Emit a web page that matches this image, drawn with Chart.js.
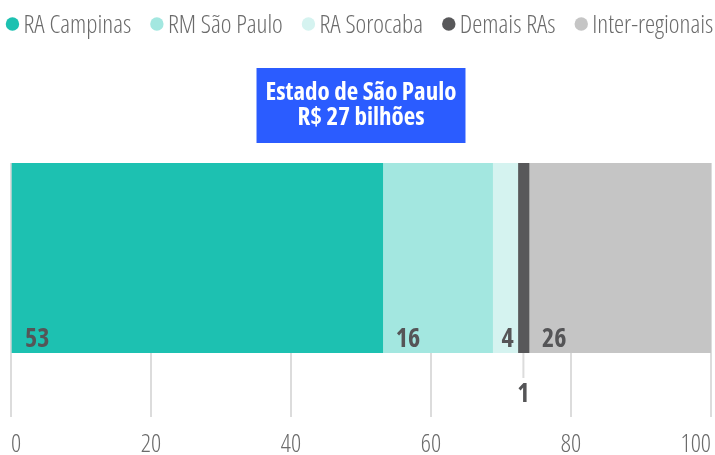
<!DOCTYPE html>
<html>
<head>
<meta charset="utf-8">
<script src="https://cdn.jsdelivr.net/npm/chart.js@4.4.1/dist/chart.umd.min.js"></script>
<style>
html,body{margin:0;padding:0;background:#fff;}
#wrap{width:715px;height:455px;position:relative;}
</style>
</head>
<body>
<div id="wrap"><canvas id="c" width="715" height="455"></canvas></div>
<script>
// ---- data ----
const categories = ['Estado de São Paulo'];
const seriesNames = ['RA Campinas', 'RM São Paulo', 'RA Sorocaba', 'Demais RAs', 'Inter-regionais'];
const seriesValues = [53.1, 15.7, 3.6, 1.6, 26.0];
const valueLabels = ['53', '16', '4', '1', '26'];
const seriesColors = ['#1DC1B1', '#A3E7E0', '#D5F3F0', '#58585A', '#C5C5C5'];
const xTickValues = [0, 20, 40, 60, 80, 100];
const titleLines = ['Estado de São Paulo', 'R$ 27 bilhões'];

const FAMILY = "'Open Sans', sans-serif";
const TEXT_GREY = '#6b6b6b';
const LABEL_GREY = '#555557';
const GRID = '#dcdcdc';
const TITLE_BG = '#2B5CFF';

// blue box behind the chart title
const titleBg = {
  id: 'titleBg',
  beforeDraw(chart) {
    const tb = chart.titleBlock;
    if (!tb) return;
    const o = tb.options;
    const ctx = chart.ctx;
    const fs = o.font.size, lh = fs * o.font.lineHeight;
    ctx.save();
    ctx.font = `condensed 700 ${fs}px ${FAMILY}`;
    let w = 0;
    titleLines.forEach(t => { w = Math.max(w, ctx.measureText(t).width); });
    const cx = (tb.left + tb.right) / 2;
    const textTop = tb.top + o.padding.top;
    const textBottom = textTop + lh * titleLines.length;
    ctx.fillStyle = TITLE_BG;
    ctx.fillRect(cx - w / 2 - 9, textTop - 12, w + 18, textBottom - textTop + 25);
    ctx.restore();
  }
};

// single-row legend with circle markers, drawn from the datasets
const topLegend = {
  id: 'topLegend',
  afterDraw(chart) {
    const ctx = chart.ctx;
    const dsets = chart.data.datasets;
    const d = 13.4, gapAfterDot = 4.3, gapBetween = 19;
    ctx.save();
    ctx.font = `condensed 300 25.5px ${FAMILY}`;
    const widths = dsets.map(ds => ctx.measureText(ds.label).width);
    const total = widths.reduce((a, w) => a + d + gapAfterDot + w, 0) + gapBetween * (dsets.length - 1);
    let x = chart.width / 2 + 2 - total / 2;
    const cy = 24, baseY = 33.3;
    ctx.textAlign = 'left';
    ctx.textBaseline = 'alphabetic';
    dsets.forEach((ds, i) => {
      ctx.fillStyle = ds.backgroundColor;
      ctx.beginPath();
      ctx.arc(x + d / 2, cy, d / 2, 0, Math.PI * 2);
      ctx.fill();
      ctx.fillStyle = TEXT_GREY;
      ctx.fillText(ds.label, x + d + gapAfterDot, baseY);
      x += d + gapAfterDot + widths[i] + gapBetween;
    });
    ctx.restore();
  }
};

// value labels on / under the bar segments
const valueLabelPlugin = {
  id: 'valueLabels',
  afterDraw(chart) {
    const ctx = chart.ctx;
    ctx.save();
    ctx.font = `condensed 700 26px ${FAMILY}`;
    ctx.fillStyle = LABEL_GREY;
    chart.data.datasets.forEach((ds, i) => {
      const meta = chart.getDatasetMeta(i);
      const bar = meta.data[0];
      if (!bar) return;
      const p = bar.getProps(['x', 'y', 'base', 'height'], true);
      const left = Math.min(p.x, p.base), right = Math.max(p.x, p.base);
      const bottom = p.y + p.height / 2;
      const text = valueLabels[i];
      const tw = ctx.measureText(text).width;
      const w = right - left;
      ctx.textBaseline = 'alphabetic';
      if (w >= tw + 24) {
        ctx.textAlign = 'left';
        ctx.fillText(text, left + 13, bottom - 6);
      } else if (w >= tw + 6) {
        ctx.textAlign = 'right';
        ctx.fillText(text, right - 4, bottom - 6);
      } else {
        const cx = (left + right) / 2;
        ctx.strokeStyle = GRID;
        ctx.lineWidth = 2;
        ctx.beginPath();
        ctx.moveTo(cx, bottom);
        ctx.lineTo(cx, bottom + 25);
        ctx.stroke();
        ctx.textAlign = 'center';
        ctx.fillText(text, cx, bottom + 49);
      }
    });
    ctx.restore();
  }
};

new Chart(document.getElementById('c'), {
  type: 'bar',
  data: {
    labels: categories,
    datasets: seriesNames.map((name, i) => ({
      label: name,
      data: [seriesValues[i]],
      backgroundColor: seriesColors[i],
      borderWidth: 0,
      barPercentage: 1,
      categoryPercentage: 1,
      stack: 'total'
    }))
  },
  options: {
    indexAxis: 'y',
    responsive: false,
    devicePixelRatio: 1,
    animation: false,
    layout: { padding: { top: 46, left: 11, right: 4, bottom: 0 } },
    plugins: {
      legend: { display: false },
      title: {
        display: true,
        text: titleLines,
        color: '#ffffff',
        font: { family: FAMILY, size: 25, weight: 'condensed 700', lineHeight: 1 },
        padding: { top: 34, bottom: 33 }
      },
      tooltip: { enabled: false }
    },
    scales: {
      x: {
        stacked: true,
        min: 0,
        max: 100,
        afterBuildTicks(scale) { scale.ticks = xTickValues.map(v => ({ value: v })); },
        afterFit(scale) {
          scale.paddingLeft = 0;
          scale.paddingRight = 0;
          scale.height = 102;
        },
        border: { display: false },
        grid: { color: GRID, lineWidth: 2, drawTicks: true, tickLength: 64, tickColor: GRID },
        ticks: {
          align: 'inner',
          padding: 15,
          color: TEXT_GREY,
          font: { family: FAMILY, size: 25, weight: 'condensed 300', lineHeight: 1 }
        }
      },
      y: {
        stacked: true,
        display: false
      }
    }
  },
  plugins: [titleBg, topLegend, valueLabelPlugin]
});
</script>
</body>
</html>
